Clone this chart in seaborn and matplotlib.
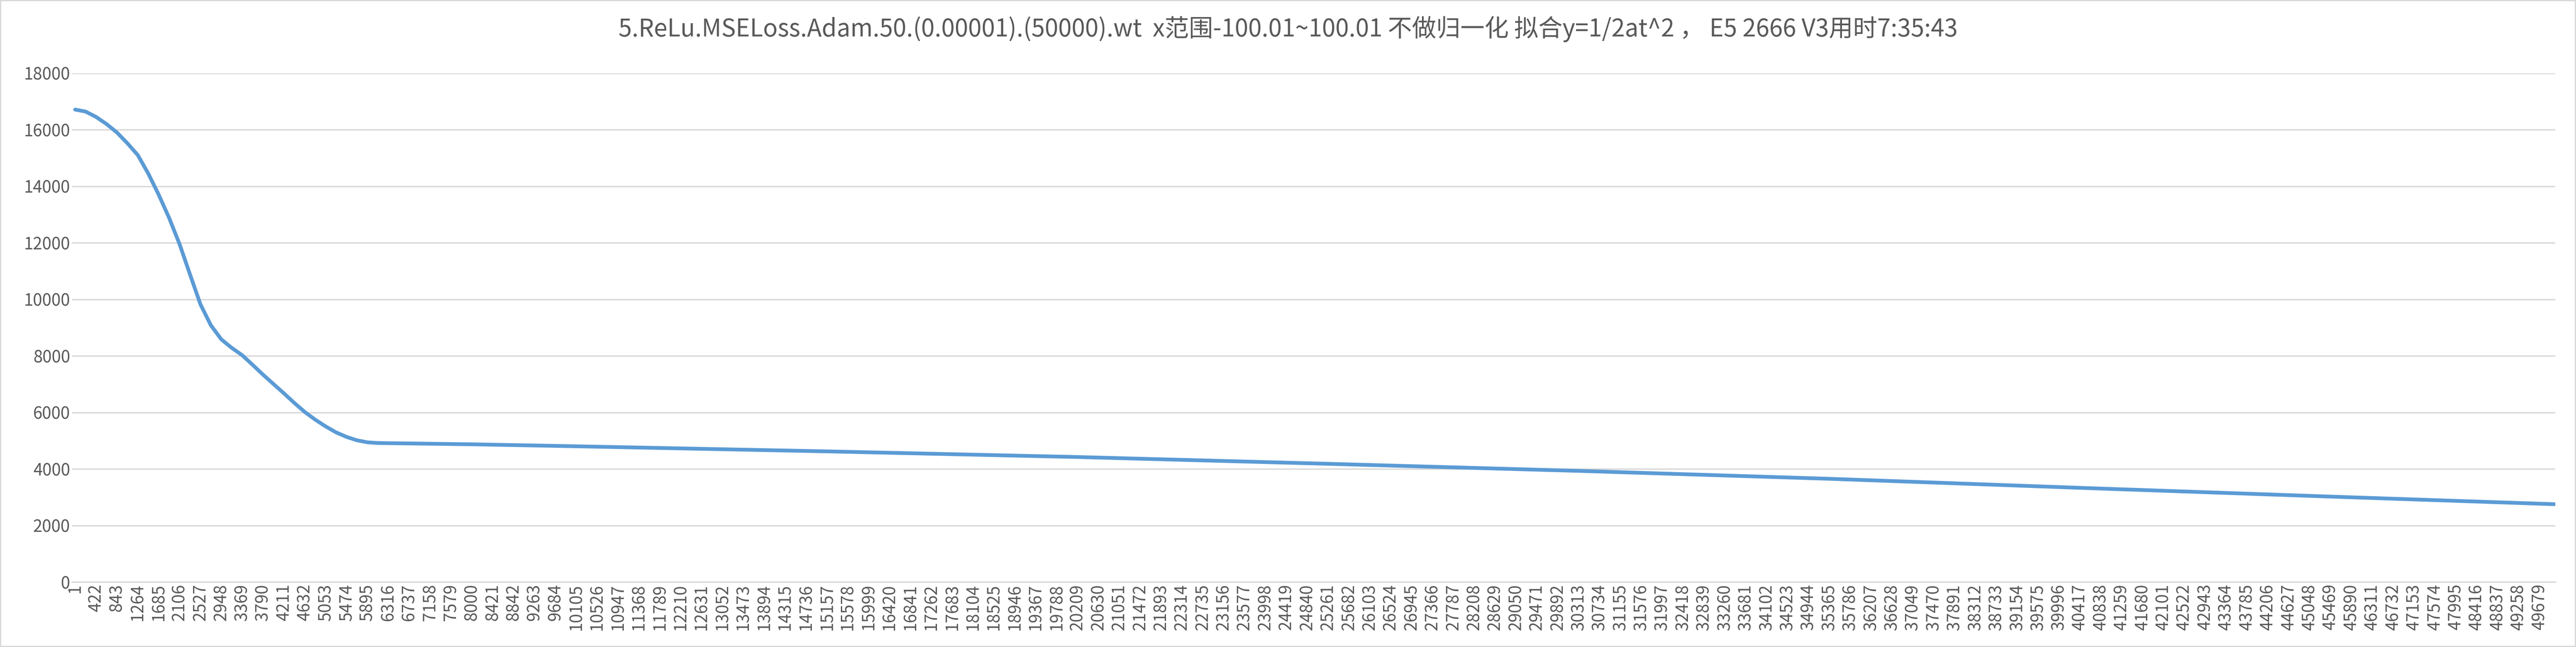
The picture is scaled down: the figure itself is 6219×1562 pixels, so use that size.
import matplotlib
matplotlib.use("Agg")
import matplotlib.pyplot as plt
import seaborn as sns
import pandas as pd
import numpy as np

# sampled readings of the loss curve
steps = [1, 211, 422, 632, 843, 1053, 1264, 1474, 1685, 1895, 2106, 2316, 2527, 2737, 2948,
         3158, 3369, 3579, 3790, 4000, 4211, 4421, 4632, 4842, 5053, 5263, 5474, 5684,
         5895, 6105, 6316, 8000, 10105, 15157, 20209, 25261, 30313, 35365, 40417, 45469, 50000]
loss = [16710, 16640, 16450, 16200, 15900, 15520, 15100, 14450, 13700, 12880, 11950, 10880,
        9820, 9080, 8580, 8280, 8020, 7680, 7330, 7000, 6670, 6330, 6010, 5740, 5500, 5290,
        5130, 5010, 4940, 4915, 4910, 4870, 4800, 4620, 4420, 4180, 3930, 3650, 3330, 3020, 2750]
tick_vals = list(range(1, 50000, 421))
title = "5.ReLu.MSELoss.Adam.50.(0.00001).(50000).wt  x范围-100.01~100.01 不做归一化 拟合y=1/2at^2 ， E5 2666 V3用时7:35:43"

sns.set_theme(style="white")
plt.rcParams['font.family'] = ['Noto Sans CJK SC', 'DejaVu Sans']

df = pd.DataFrame({"step": steps, "loss": loss})
fig = plt.figure(figsize=(62.19, 15.62), dpi=100)
fig.patch.set_edgecolor("#d9d9d9"); fig.patch.set_linewidth(4)
ax = fig.add_axes([0.028, 0.1005, 0.964, 0.7865])
sns.lineplot(data=df, x="step", y="loss", ax=ax, color="#5B9BD5", linewidth=6.5)
ax.set_xlim(-60, 50000)
ax.set_ylim(0, 18000)
ax.set_yticks(range(0, 18001, 2000))
ax.set_xticks(tick_vals)
ax.set_xticklabels([str(v) for v in tick_vals], rotation=90)
ax.tick_params(axis='both', labelsize=29, colors="#595959", length=0)
ax.grid(axis='y', color="#d9d9d9", linewidth=2.5)
for s in ["top", "right", "left"]:
    ax.spines[s].set_visible(False)
ax.spines["bottom"].set_color("#d9d9d9"); ax.spines["bottom"].set_linewidth(2.5)
ax.set_xlabel(""); ax.set_ylabel("")
fig.text(0.5, 0.955, title, ha="center", va="center", fontsize=42, color="#595959")
fig.savefig("out.png", dpi=100)
